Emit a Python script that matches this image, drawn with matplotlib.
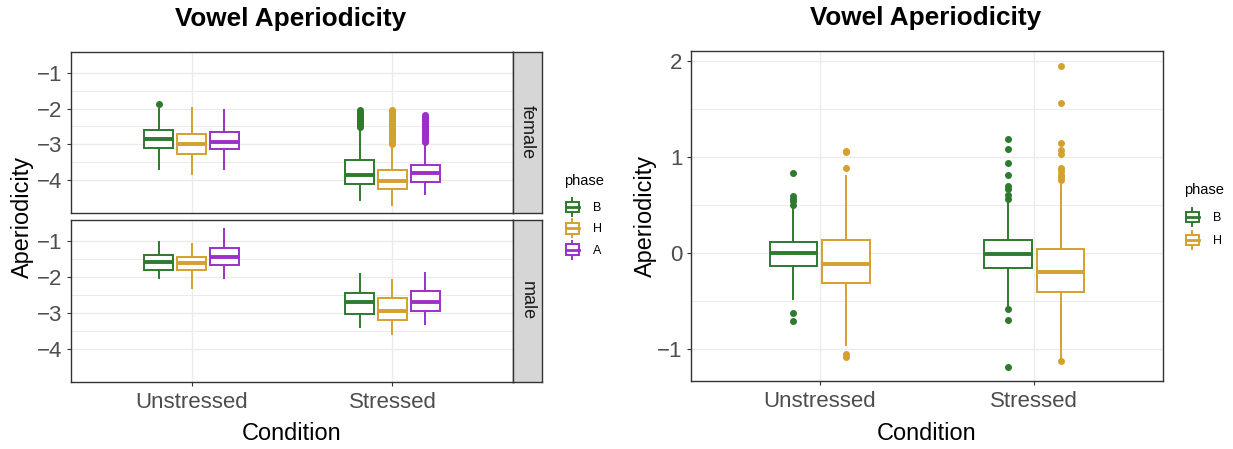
import numpy as np
import matplotlib.pyplot as plt
from matplotlib.legend_handler import HandlerBase
from matplotlib.patches import Rectangle, Patch
from matplotlib.lines import Line2D

plt.rcParams['font.family'] = ['Liberation Sans', 'DejaVu Sans']

conditions = ['Unstressed', 'Stressed']
phase_colors = {'B': '#2E7A2E', 'H': '#D4A02E', 'A': '#9B30C8'}

# each box: [whisker low, q1, median, q3, whisker high], one per condition
female_B = [[-3.68, -3.11, -2.86, -2.61, -2.01], [-4.56, -4.10, -3.85, -3.45, -2.55]]
female_H = [[-3.82, -3.27, -2.98, -2.72, -1.98], [-4.69, -4.25, -4.02, -3.71, -3.05]]
female_A = [[-3.68, -3.14, -2.94, -2.65, -2.04], [-4.40, -4.06, -3.81, -3.57, -2.97]]
female_B_out = [[-1.86],
                [-2.04, -2.10, -2.14, -2.18, -2.21, -2.25, -2.28, -2.31, -2.34,
                 -2.37, -2.40, -2.43, -2.46, -2.49, -2.52]]
female_H_out = [[],
                [-2.04, -2.08, -2.12, -2.16, -2.20, -2.24, -2.28, -2.32, -2.36,
                 -2.40, -2.44, -2.48, -2.52, -2.56, -2.60, -2.64, -2.68, -2.72,
                 -2.76, -2.80, -2.84, -2.88, -2.92, -2.96, -3.00]]
female_A_out = [[],
                [-2.19, -2.23, -2.27, -2.31, -2.35, -2.39, -2.43, -2.47, -2.51,
                 -2.55, -2.59, -2.63, -2.67, -2.71, -2.75, -2.79, -2.83, -2.87,
                 -2.90, -2.93]]

male_B = [[-2.02, -1.81, -1.60, -1.39, -1.02], [-3.39, -3.04, -2.70, -2.44, -1.93]]
male_H = [[-2.31, -1.81, -1.62, -1.44, -1.08], [-3.58, -3.19, -2.95, -2.60, -2.09]]
male_A = [[-2.02, -1.67, -1.45, -1.21, -0.67], [-3.31, -2.96, -2.69, -2.39, -1.90]]
male_out = [[], []]

pooled_B = [[-0.48, -0.13, 0.00, 0.12, 0.47], [-0.55, -0.15, -0.01, 0.14, 0.55]]
pooled_H = [[-0.96, -0.31, -0.11, 0.14, 0.80], [-1.09, -0.40, -0.19, 0.04, 0.71]]
pooled_B_out = [[0.84, 0.60, 0.57, 0.54, 0.50, -0.62, -0.70],
                [1.19, 1.09, 0.94, 0.82, 0.70, 0.67, 0.61, 0.57, -0.58, -0.69, -1.18]]
pooled_H_out = [[1.07, 1.05, 0.89, -1.05, -1.08],
                [1.95, 1.57, 1.15, 1.08, 1.03, 0.89, 0.86, 0.82, 0.79, 0.76, -1.12]]

TICK_COL = '#4D4D4D'
GRID_COL = '#EBEBEB'
BORDER = '#333333'


def draw_boxes(ax, groups, offset, width):
    n = len(groups)
    for i, (phase, boxes, outs) in enumerate(groups):
        c = phase_colors[phase]
        shift = (i - (n - 1) / 2) * offset
        stats = []
        for j in range(len(conditions)):
            lo, q1, med, q3, hi = boxes[j]
            stats.append(dict(whislo=lo, q1=q1, med=med, q3=q3, whishi=hi, fliers=outs[j]))
        ax.bxp(stats, positions=np.arange(1, len(conditions) + 1) + shift, widths=width,
               patch_artist=True, showcaps=False, manage_ticks=False,
               boxprops=dict(facecolor='white', edgecolor=c, linewidth=1.4),
               medianprops=dict(color=c, linewidth=2.8, solid_capstyle='butt'),
               whiskerprops=dict(color=c, linewidth=1.4),
               flierprops=dict(marker='o', markerfacecolor=c, markeredgecolor=c,
                               markersize=4, linestyle='none'))


def style(ax, ylim, yticks, xlabels=True):
    ax.set_xlim(0.4, 2.6)
    ax.set_ylim(*ylim)
    ax.set_yticks(yticks)
    ax.set_yticks(np.array(yticks[:-1]) + np.diff(yticks) / 2, minor=True)
    ax.set_xticks([1, 2])
    ax.set_xticklabels(conditions if xlabels else [])
    ax.grid(True, which='major', color=GRID_COL, linewidth=1.0)
    ax.grid(True, which='minor', axis='y', color=GRID_COL, linewidth=0.7)
    ax.set_axisbelow(True)
    ax.tick_params(which='minor', length=0)
    ax.tick_params(axis='y', labelsize=16, labelcolor=TICK_COL, color=BORDER,
                   length=3, pad=3)
    ax.tick_params(axis='x', labelsize=16, labelcolor=TICK_COL, color=BORDER,
                   length=3 if xlabels else 0, pad=4)
    for s in ax.spines.values():
        s.set_color(BORDER)
        s.set_linewidth(1.0)


class BoxKey(HandlerBase):
    def create_artists(self, legend, orig_handle, xdescent, ydescent,
                       width, height, fontsize, trans):
        c = orig_handle.get_edgecolor()
        cx = -xdescent + width / 2
        y0 = -ydescent
        bw = width * 0.8
        lo, hi = y0 + height * 0.2, y0 + height * 0.8
        whisk_top = Line2D([cx, cx], [hi, y0 + height], color=c, lw=1.4, transform=trans)
        whisk_bot = Line2D([cx, cx], [y0, lo], color=c, lw=1.4, transform=trans)
        box = Rectangle((cx - bw / 2, lo), bw, hi - lo,
                        facecolor='white', edgecolor=c, lw=1.4, transform=trans)
        med = Line2D([cx - bw / 2, cx + bw / 2], [y0 + height / 2] * 2, color=c,
                     lw=2.0, transform=trans)
        return [whisk_top, whisk_bot, box, med]


def add_legend(fig, phases, x, title_y, keys_y, spacing):
    fig.text(x, title_y, 'phase', ha='left', va='center', fontsize=10.5)
    handles = [Patch(facecolor='white', edgecolor=phase_colors[p], label=p) for p in phases]
    fig.legend(handles=handles, handler_map={Patch: BoxKey()},
               loc='upper left', bbox_to_anchor=(x, keys_y), frameon=False,
               fontsize=9, handlelength=1.35, handleheight=1.8,
               labelspacing=spacing, handletextpad=1.0, borderpad=0, borderaxespad=0)


W, H = 1233, 449
fig = plt.figure(figsize=(W / 100, H / 100), dpi=100)


def px_axes(x0, y0, x1, y1):
    return fig.add_axes([x0 / W, 1 - y1 / H, (x1 - x0) / W, (y1 - y0) / H])


# left: faceted by sex
facets = [
    ('female', [('B', female_B, female_B_out), ('H', female_H, female_H_out),
                ('A', female_A, female_A_out)], 52, 213),
    ('male', [('B', male_B, male_out), ('H', male_H, male_out),
              ('A', male_A, male_out)], 220, 382),
]
for k, (sex, groups, top, bot) in enumerate(facets):
    ax = px_axes(71, top, 513, bot)
    draw_boxes(ax, groups, offset=0.164, width=0.148)
    style(ax, (-4.92, -0.42), [-4, -3, -2, -1], xlabels=(k == 1))
    strip = px_axes(513, top, 542, bot)
    strip.set_facecolor('#D6D6D6')
    strip.set_xticks([])
    strip.set_yticks([])
    for s in strip.spines.values():
        s.set_color(BORDER)
        s.set_linewidth(1.0)
    strip.text(0.5, 0.5, sex, rotation=-90, ha='center', va='center',
               fontsize=13, color='#1A1A1A', transform=strip.transAxes)

fig.text(291 / W, 1 - 19 / H, 'Vowel Aperiodicity', ha='center', va='center',
         fontsize=18.8, fontweight='bold')
fig.text(292 / W, 1 - 433 / H, 'Condition', ha='center', va='center', fontsize=16.9)
fig.text(22 / W, 1 - 217 / H, 'Aperiodicity', ha='center', va='center',
         rotation=90, fontsize=16.9)
add_legend(fig, ['B', 'H', 'A'], 564 / W, 1 - 181 / H, 1 - 198 / H, 0.3)

# right: pooled
axr = px_axes(691, 51, 1163, 381)
draw_boxes(axr, [('B', pooled_B, pooled_B_out), ('H', pooled_H, pooled_H_out)],
           offset=0.245, width=0.222)
style(axr, (-1.33, 2.107), [-1, 0, 1, 2])
fig.text(926 / W, 1 - 18 / H, 'Vowel Aperiodicity', ha='center', va='center',
         fontsize=18.8, fontweight='bold')
fig.text(927 / W, 1 - 433 / H, 'Condition', ha='center', va='center', fontsize=16.9)
fig.text(645 / W, 1 - 216 / H, 'Aperiodicity', ha='center', va='center',
         rotation=90, fontsize=16.9)
add_legend(fig, ['B', 'H'], 1184 / W, 1 - 190 / H, 1 - 208 / H, 0.45)

fig.savefig('out.png', dpi=100)
